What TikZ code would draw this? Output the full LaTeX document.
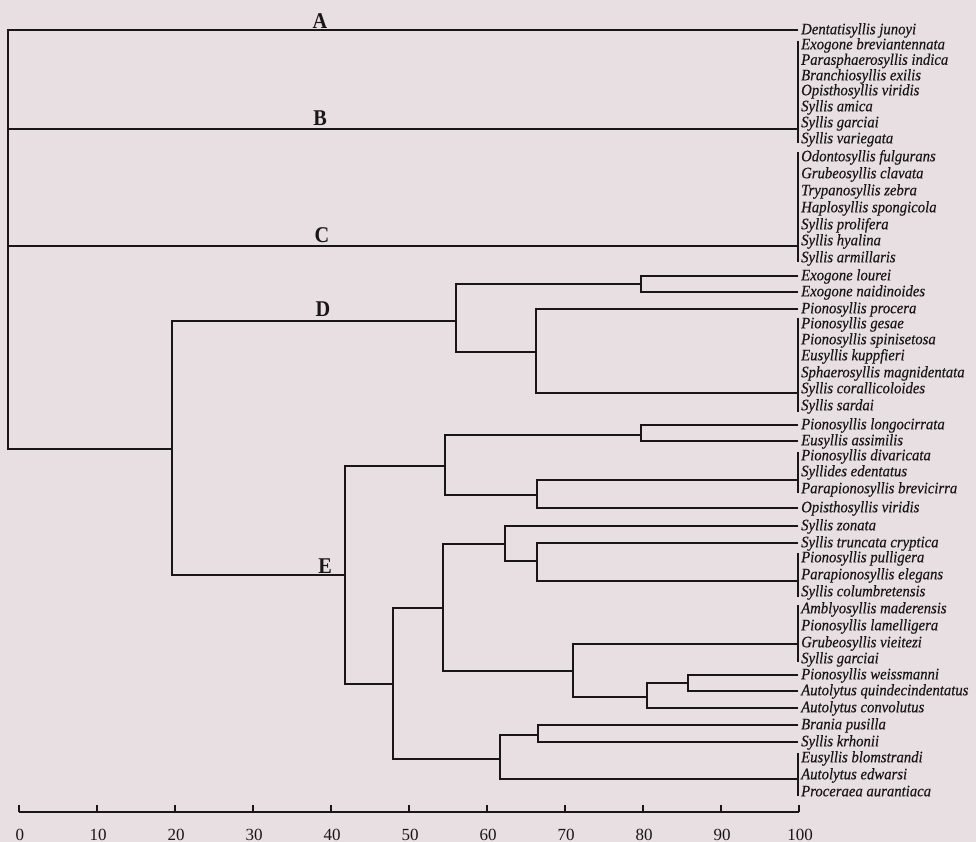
\documentclass[tikz,border=0pt]{standalone}
\usepackage{fontspec}
\setmainfont{Liberation Serif}
\newfontfamily\leaffont[FakeStretch=0.92,FakeBold=0.4]{Liberation Serif}
\newfontfamily\cladefont[FakeStretch=0.9]{Liberation Serif}
\definecolor{bgc}{RGB}{231,223,225}
\definecolor{ink}{RGB}{25,22,24}
\begin{document}
\begin{tikzpicture}[x=1pt,y=-1pt,
  leaf/.style={anchor=west, inner xsep=3pt, inner ysep=0pt, text=ink,
    text height=10pt, text depth=1.4pt,
    font=\leaffont\fontsize{16}{17}\selectfont\itshape},
  clade/.style={anchor=base, inner sep=0pt, text=ink,
    font=\cladefont\fontsize{22.5}{24}\selectfont\bfseries},
  ticklab/.style={anchor=base, inner sep=0pt, text=ink,
    font=\fontsize{17}{19}\selectfont},
  link/.style={draw=ink, line width=1.5pt},
  grpbar/.style={draw=ink, line width=1.4pt}]
\fill[bgc] (0,0) rectangle (976,842);
\useasboundingbox (0,0) rectangle (976,842);

% ---------- leaves ----------
\node[leaf] (a1) at (798,30) {Dentatisyllis junoyi};
\node[leaf] (b1) at (798,45) {Exogone breviantennata};
\node[leaf] (b2) at (798,60.5) {Parasphaerosyllis indica};
\node[leaf] (b3) at (798,76) {Branchiosyllis exilis};
\node[leaf] (b4) at (798,91) {Opisthosyllis viridis};
\node[leaf] (b5) at (798,107) {Syllis amica};
\node[leaf] (b6) at (798,123) {Syllis garciai};
\node[leaf] (b7) at (798,139) {Syllis variegata};
\node[leaf] (c1) at (798,157) {Odontosyllis fulgurans};
\node[leaf] (c2) at (798,174) {Grubeosyllis clavata};
\node[leaf] (c3) at (798,191) {Trypanosyllis zebra};
\node[leaf] (c4) at (798,208) {Haplosyllis spongicola};
\node[leaf] (c5) at (798,225) {Syllis prolifera};
\node[leaf] (c6) at (798,241) {Syllis hyalina};
\node[leaf] (c7) at (798,258) {Syllis armillaris};
\node[leaf] (d1) at (798,276) {Exogone lourei};
\node[leaf] (d2) at (798,292) {Exogone naidinoides};
\node[leaf] (d3) at (798,309) {Pionosyllis procera};
\node[leaf] (d4) at (798,324) {Pionosyllis gesae};
\node[leaf] (d5) at (798,340) {Pionosyllis spinisetosa};
\node[leaf] (d6) at (798,356) {Eusyllis kuppfieri};
\node[leaf] (d7) at (798,373) {Sphaerosyllis magnidentata};
\node[leaf] (d8) at (798,389) {Syllis corallicoloides};
\node[leaf] (d9) at (798,406) {Syllis sardai};
\node[leaf] (e1) at (798,425) {Pionosyllis longocirrata};
\node[leaf] (e2) at (798,441) {Eusyllis assimilis};
\node[leaf] (e3) at (798,456) {Pionosyllis divaricata};
\node[leaf] (e4) at (798,472) {Syllides edentatus};
\node[leaf] (e5) at (798,489) {Parapionosyllis brevicirra};
\node[leaf] (e6) at (798,508) {Opisthosyllis viridis};
\node[leaf] (e7) at (798,526) {Syllis zonata};
\node[leaf] (e8) at (798,543) {Syllis truncata cryptica};
\node[leaf] (e9) at (798,558) {Pionosyllis pulligera};
\node[leaf] (e10) at (798,575) {Parapionosyllis elegans};
\node[leaf] (e11) at (798,592) {Syllis columbretensis};
\node[leaf] (e12) at (798,609) {Amblyosyllis maderensis};
\node[leaf] (e13) at (798,626) {Pionosyllis lamelligera};
\node[leaf] (e14) at (798,643) {Grubeosyllis vieitezi};
\node[leaf] (e15) at (798,659) {Syllis garciai};
\node[leaf] (e16) at (798,675) {Pionosyllis weissmanni};
\node[leaf] (e17) at (798,691) {Autolytus quindecindentatus};
\node[leaf] (e18) at (798,708) {Autolytus convolutus};
\node[leaf] (e19) at (798,725) {Brania pusilla};
\node[leaf] (e20) at (798,742) {Syllis krhonii};
\node[leaf] (e21) at (798,758) {Eusyllis blomstrandi};
\node[leaf] (e22) at (798,775) {Autolytus edwarsi};
\node[leaf] (e23) at (798,792) {Proceraea aurantiaca};

% ---------- group bars ----------
\draw[grpbar] ([yshift=4pt]b1.west) -- ([yshift=-4pt]b7.west);
\draw[grpbar] ([yshift=5pt]c1.west) -- ([yshift=-4pt]c7.west);
\draw[grpbar] ([yshift=6pt]d4.west) -- ([yshift=-6pt]d9.west);
\draw[grpbar] ([yshift=4pt]e3.west) -- ([yshift=-4pt]e5.west);
\draw[grpbar] ([yshift=5pt]e9.west) -- ([yshift=-5pt]e11.west);
\draw[grpbar] ([yshift=4pt]e12.west) -- ([yshift=-3pt]e15.west);
\draw[grpbar] ([yshift=5pt]e21.west) -- ([yshift=-4pt]e23.west);
\coordinate (gB) at (798,129);
\coordinate (gC) at (798,246);
\coordinate (gD) at (798,393);
\coordinate (gDiv) at (798,480);
\coordinate (gPul) at (798,581);
\coordinate (gAm) at (798,644);
\coordinate (gBlo) at (798,779);

% ---------- internal nodes ----------
\coordinate (root) at (8,449);
\coordinate (kDE) at (172,449);
\coordinate (kD) at (456,321);
\coordinate (kEx) at (641,284);
\coordinate (kPro) at (536,352);
\coordinate (kE) at (345,575);
\coordinate (kE1) at (445,466);
\coordinate (kLon) at (641,435);
\coordinate (kDiv) at (537,495);
\coordinate (kE2) at (393,684);
\coordinate (kE3) at (443,608);
\coordinate (kZ) at (505,544);
\coordinate (kTr) at (537,561);
\coordinate (kAm) at (573,671);
\coordinate (kCon) at (647,697);
\coordinate (kWei) at (688,683);
\coordinate (kE4) at (500,759);
\coordinate (kBr) at (538,735);

% ---------- connectors ----------
\draw[link] (a1.west) -| (root) -- (kDE);
\draw[link] (gB) -- (gB -| root);
\draw[link] (gC) -- (gC -| root);
\draw[link] (kD) -| (kDE) |- (kE);
\draw[link] (kEx) -| (kD) |- (kPro);
\draw[link] (d1.west) -| (kEx) |- (d2.west);
\draw[link] (d3.west) -| (kPro) |- (gD);
\draw[link] (kE1) -| (kE) |- (kE2);
\draw[link] (kLon) -| (kE1) |- (kDiv);
\draw[link] (e1.west) -| (kLon) |- (e2.west);
\draw[link] (gDiv) -| (kDiv) |- (e6.west);
\draw[link] (kE3) -| (kE2) |- (kE4);
\draw[link] (kZ) -| (kE3) |- (kAm);
\draw[link] (e7.west) -| (kZ) |- (kTr);
\draw[link] (e8.west) -| (kTr) |- (gPul);
\draw[link] (gAm) -| (kAm) |- (kCon);
\draw[link] (kWei) -| (kCon) |- (e18.west);
\draw[link] (e16.west) -| (kWei) |- (e17.west);
\draw[link] (kBr) -| (kE4) |- (gBlo);
\draw[link] (e19.west) -| (kBr) |- (e20.west);

% ---------- clade letters ----------
\node[clade] (LA) at (320,28.3) {A};
\node[clade] (LB) at (320,126) {B};
\node[clade] (LC) at (322,243) {C};
\node[clade] (LD) at (323,316.7) {D};
\node[clade] (LE) at (325,573) {E};

% ---------- scale ----------
\coordinate (ax0) at (19,812);
\coordinate (ax100) at (799,812);
\draw[link] (ax0) -- (ax100);
\foreach \i in {0,...,10}{
  \coordinate (t\i) at (19+78*\i,812);
  \draw[link] (t\i) -- ++(0,-7);
  \pgfmathtruncatemacro{\v}{10*\i}
  \node[ticklab] (tl\i) at (20+78*\i,840) {\v};
}
\end{tikzpicture}
\end{document}
